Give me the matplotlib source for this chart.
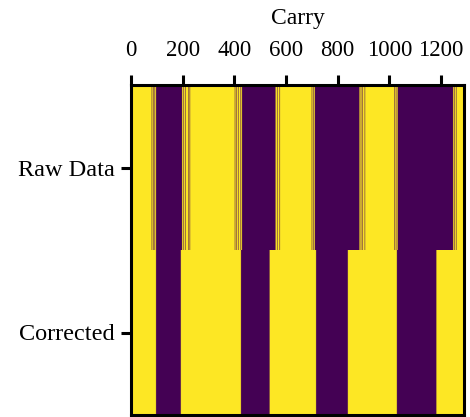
import numpy as np
import matplotlib
matplotlib.use("Agg")
import matplotlib.pyplot as plt

plt.rcParams['font.family'] = ['Liberation Serif', 'DejaVu Serif']

n_carry = 1290
row_labels = ["Raw Data", "Corrected"]

# purple (0) stretches, (start, end) in carry units; everything else is 1
raw_off = [(80, 82), (86, 88), (91, 93), (97, 198), (203, 205), (210, 212), (222, 224), (227, 229),
           (402, 404), (408, 410), (415, 417), (424, 426), (430, 560), (566, 568), (575, 577),
           (700, 702), (706, 708), (712, 885), (890, 892), (896, 898), (905, 907),
           (1020, 1022), (1026, 1028), (1033, 1248), (1252, 1254), (1259, 1261)]
corrected_off = [(97, 193), (426, 537), (717, 840), (1030, 1183)]


def make_row(off):
    row = np.ones(n_carry)
    for a, b in off:
        row[a:b] = 0
    return row


grid = np.vstack([make_row(raw_off), make_row(corrected_off)])
# repeat rows only for display so the resampling doesn't smear vertically
disp = np.repeat(grid, 165, axis=0)

fig = plt.figure(figsize=(4.7, 4.17), dpi=100)
ax = fig.add_axes([131 / 470, 2 / 417, 333 / 470, 330 / 417])
ax.imshow(disp, aspect="auto", cmap="viridis",
          extent=(-0.5, n_carry - 0.5, 1.5, -0.5))

ax.xaxis.tick_top()
ax.xaxis.set_label_position("top")
ax.set_xticks([0, 200, 400, 600, 800, 1000, 1200])
ax.set_yticks([0, 1])
ax.set_yticklabels(row_labels)
ax.set_xlabel("Carry", fontsize=17, labelpad=11)
ax.tick_params(width=2.2, length=7.5)
ax.tick_params(axis="x", labelsize=16.5, pad=10)
ax.tick_params(axis="y", labelsize=17.5, pad=4)
for s in ax.spines.values():
    s.set_linewidth(2.2)

fig.savefig("out.png", dpi=100)
